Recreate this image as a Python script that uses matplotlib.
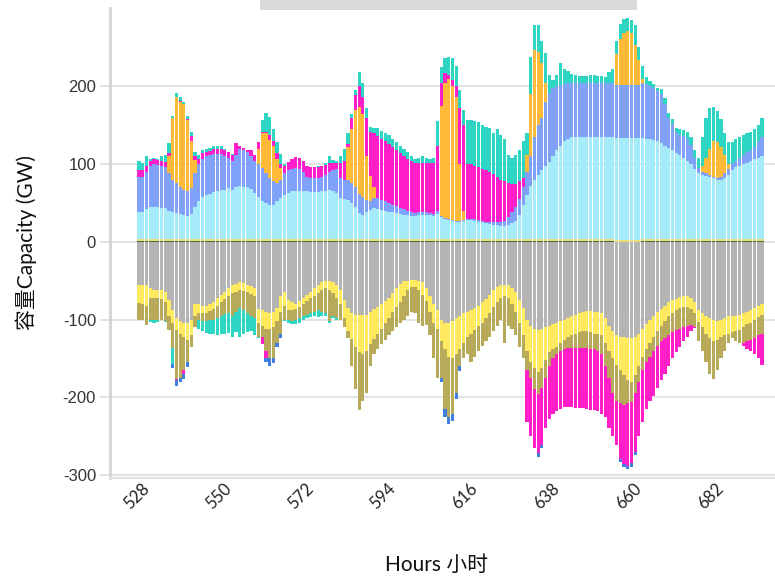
import numpy as np
import matplotlib.pyplot as plt
import matplotlib.transforms as mtransforms
from matplotlib.patches import Rectangle

plt.rcParams['font.family'] = ['Liberation Sans', 'Noto Sans CJK SC']

hours = list(range(528, 696))
tick_hours = [528, 550, 572, 594, 616, 638, 660, 682]
ytick_vals = [-300, -200, -100, 0, 100, 200]
ytick_text = ['-300', '-200', '-100', '0', '100', '200']

# --- positive side (GW), stacked from zero upwards ---
green_pos = ([1.5] * 24 + [1.5] * 24 + [1.5] * 24 + [1.5] * 24 + [1.5] * 24
             + [1.5, 1.5, 1.5, 1.5, 1.5, 1.5, 1.5, 1.5, 0, 0, 0, 0, 0, 0, 0,
                1.5, 1.5, 1.5, 1.5, 1.5, 1.5, 1.5, 1.5, 1.5]
             + [1.5] * 24)
yellow_pos = [2.5] * 168

cyan = [35, 34, 38, 41, 41, 41, 40, 39, 36, 34, 33, 32, 31, 29, 32, 41, 48, 54, 56, 58, 60, 62, 63, 63,
        65, 63, 67, 68, 67, 66, 64, 59, 54, 48, 46, 44, 44, 48, 52, 56, 59, 61, 62, 62, 62, 61, 60, 60,
        60, 61, 62, 63, 61, 59, 52, 51, 50, 46, 41, 33, 31, 34, 37, 39, 38, 37, 36, 35, 34, 33, 32, 31,
        30, 29, 29, 30, 31, 31, 30, 29, 32, 28, 26, 24, 23, 22, 22, 23, 24, 24, 23, 22, 21, 20, 19, 18,
        18, 17, 17, 18, 20, 23, 31, 44, 56, 68, 76, 82, 88, 94, 99, 106, 114, 120, 126, 129, 131, 131, 131, 131,
        131, 131, 131, 131, 131, 131, 131, 131, 131, 131, 131, 131, 131, 131, 131, 130, 129, 128, 127, 126, 123, 120, 117, 114,
        110, 108, 104, 100, 96, 90, 84, 82, 81, 80, 78, 76, 76, 78, 82, 88, 92, 94, 96, 98, 100, 102, 104, 106]

blue = [45, 46, 48, 52, 55, 54, 54, 53, 48, 42, 39, 35, 32, 32, 33, 43, 48, 49, 50, 50, 49, 47, 46, 44,
        39, 37, 41, 48, 47, 45, 42, 41, 42, 43, 38, 34, 30, 24, 24, 28, 29, 29, 29, 28, 24, 19, 18, 18,
        18, 19, 20, 23, 28, 31, 26, 25, 26, 26, 26, 25, 23, 16, 11, 13, 14, 13, 12, 11, 10, 9, 8, 7,
        6, 5, 4, 4, 4, 3, 3, 3, 4, 1, 1, 1, 1, 1, 1, 1, 2, 2, 2, 2, 2, 2, 2, 3,
        3, 4, 6, 10, 14, 18, 20, 22, 30, 38, 55, 64, 68, 82, 89, 88, 82, 78, 73, 71, 69, 69, 69, 69,
        69, 69, 69, 69, 69, 69, 69, 69, 69, 69, 69, 69, 69, 69, 69, 70, 70, 68, 67, 64, 63, 54, 39, 34,
        28, 26, 28, 28, 25, 14, 7, 4, 3, 2, 2, 2, 4, 6, 8, 8, 8, 10, 12, 13, 14, 16, 22, 25]

orange = [0, 0, 0, 0, 0, 0, 0, 0, 22, 80, 110, 109, 110, 92, 61, 17, 0, 0, 0, 0, 0, 0, 0, 0,
          0, 0, 0, 0, 0, 0, 0, 0, 20, 45, 52, 49, 45, 30, 15, 0, 0, 0, 0, 0, 0, 0, 0, 0,
          0, 0, 0, 0, 0, 0, 0, 0, 42, 69, 99, 112, 107, 56, 33, 14, 0, 0, 0, 0, 0, 0, 0, 0,
          0, 0, 0, 0, 0, 0, 0, 0, 0, 142, 174, 180, 172, 160, 73, 12, 0, 0, 0, 0, 0, 0, 0, 0,
          0, 0, 0, 0, 0, 0, 0, 0, 22, 80, 112, 95, 70, 25, 0, 0, 0, 0, 0, 0, 0, 0, 0, 0,
          0, 0, 0, 0, 0, 0, 0, 0, 39, 58, 66, 69, 66, 51, 31, 6, 0, 0, 0, 0, 0, 0, 0, 0,
          0, 0, 0, 0, 0, 0, 0, 8, 20, 34, 46, 46, 38, 24, 6, 0, 0, 0, 0, 0, 0, 0, 0, 0]

pink_pos = [9, 8, 8, 7, 6, 6, 6, 7, 4, 0, 0, 1, 1, 1, 6, 5, 6, 7, 6, 5, 6, 6, 7, 7,
            7, 8, 15, 3, 3, 3, 8, 8, 8, 2, 2, 7, 7, 8, 5, 9, 11, 12, 14, 14, 14, 14, 14, 14,
            14, 13, 13, 11, 9, 7, 19, 24, 4, 15, 19, 26, 21, 50, 57, 70, 80, 79, 78, 76, 74, 72, 70, 68,
            67, 66, 65, 63, 62, 63, 64, 66, 83, 30, 12, 6, 8, 13, 72, 110, 70, 70, 69, 68, 67, 66, 65, 62,
            59, 55, 51, 44, 37, 30, 23, 12, 0, 0, 0, 0, 0, 0, 0, 0, 0, 0, 0, 0, 0, 0, 0, 0,
            0, 0, 0, 0, 0, 0, 0, 0, 0, 0, 0, 0, 0, 0, 0, 0, 0, 0, 0, 0, 0, 0, 0, 0,
            0, 0, 0, 0, 0, 0, 0, 0, 0, 0, 0, 0, 0, 0, 0, 0, 0, 0, 0, 0, 0, 0, 0, 0]

teal_pos = [11, 9, 12, 2, 2, 1, 6, 9, 13, 2, 5, 5, 2, 4, 6, 6, 6, 4, 4, 4, 4, 4, 3, 2,
            1, 1, 0, 0, 0, 0, 0, 0, 1, 15, 24, 23, 15, 15, 13, 3, 0, 0, 0, 0, 0, 0, 0, 0,
            1, 1, 3, 9, 3, 3, 9, 16, 14, 5, 7, 19, 18, 12, 6, 6, 10, 10, 10, 11, 11, 11, 10, 10,
            8, 6, 4, 7, 9, 7, 5, 6, 32, 20, 19, 23, 28, 26, 23, 20, 57, 57, 58, 58, 56, 56, 56, 53,
            61, 58, 54, 36, 33, 37, 40, 48, 28, 48, 32, 34, 28, 38, 23, 10, 15, 28, 19, 16, 12, 11, 10, 10,
            10, 11, 11, 10, 9, 8, 14, 18, 17, 20, 18, 17, 17, 25, 17, 16, 9, 7, 5, 4, 7, 7, 6, 6,
            5, 7, 8, 10, 10, 10, 13, 37, 52, 52, 44, 40, 36, 28, 28, 28, 28, 27, 26, 25, 24, 23, 20, 25]

# --- negative side (GW, drawn below zero) ---
gray = [55, 55, 56, 60, 62, 62, 62, 65, 75, 88, 98, 102, 104, 105, 100, 80, 80, 83, 82, 80, 77, 72, 68, 64,
        60, 56, 54, 52, 53, 55, 57, 60, 86, 88, 90, 92, 90, 85, 70, 64, 75, 78, 80, 76, 72, 68, 64, 60,
        56, 52, 50, 50, 52, 56, 62, 75, 85, 92, 94, 94, 94, 94, 90, 86, 84, 80, 76, 72, 66, 60, 54, 51,
        50, 49, 49, 50, 52, 60, 70, 80, 88, 100, 104, 105, 102, 98, 95, 92, 90, 88, 85, 82, 78, 74, 68, 62,
        58, 56, 55, 56, 60, 65, 75, 85, 100, 108, 112, 113, 112, 110, 108, 106, 104, 102, 100, 98, 96, 94, 92, 90,
        89, 89, 90, 90, 92, 98, 108, 115, 120, 122, 123, 124, 124, 122, 118, 112, 106, 100, 95, 90, 86, 82, 78, 75,
        73, 71, 70, 70, 72, 78, 88, 92, 95, 98, 100, 102, 100, 98, 96, 95, 95, 94, 92, 90, 88, 85, 83, 80]

yellow = [24, 25, 27, 12, 10, 10, 12, 13, 21, 17, 15, 16, 18, 21, 20, 15, 12, 9, 9, 9, 9, 10, 10, 10,
          10, 10, 10, 10, 10, 10, 10, 10, 19, 20, 22, 20, 20, 17, 20, 18, 13, 10, 6, 8, 8, 8, 8, 10,
          10, 10, 10, 12, 14, 16, 18, 23, 30, 33, 41, 48, 51, 46, 42, 39, 34, 32, 28, 26, 24, 24, 24, 19,
          12, 9, 9, 12, 16, 16, 20, 25, 24, 28, 34, 43, 48, 47, 43, 38, 32, 30, 29, 26, 26, 24, 24, 22,
          20, 16, 15, 16, 20, 25, 30, 35, 40, 47, 50, 55, 50, 42, 34, 32, 31, 28, 26, 24, 24, 24, 24, 25,
          26, 27, 28, 28, 28, 32, 32, 35, 38, 43, 49, 54, 56, 50, 42, 36, 32, 30, 27, 25, 22, 20, 18, 17,
          15, 14, 14, 14, 14, 14, 15, 18, 23, 26, 28, 24, 22, 22, 22, 21, 20, 19, 18, 16, 16, 15, 14, 14]

olive = [21, 20, 24, 29, 29, 28, 26, 24, 17, 32, 63, 57, 43, 29, 15, 15, 8, 10, 11, 11, 14, 16, 18, 19,
         22, 29, 26, 23, 25, 27, 28, 28, 17, 14, 28, 38, 40, 28, 28, 18, 12, 14, 14, 14, 16, 18, 20, 20,
         22, 28, 32, 40, 30, 26, 20, 12, 9, 35, 55, 74, 60, 55, 28, 20, 20, 20, 22, 22, 25, 26, 27, 30,
         33, 32, 34, 43, 40, 31, 30, 45, 63, 47, 77, 77, 72, 50, 22, 20, 23, 37, 34, 32, 30, 30, 30, 31,
         30, 28, 60, 36, 32, 30, 30, 30, 25, 20, 28, 28, 26, 23, 18, 12, 10, 10, 12, 15, 17, 19, 21, 22,
         22, 22, 20, 22, 25, 30, 35, 45, 47, 43, 38, 30, 26, 23, 20, 17, 17, 18, 18, 19, 20, 22, 24, 24,
         26, 27, 26, 24, 21, 18, 25, 30, 37, 46, 48, 39, 28, 20, 12, 8, 13, 17, 20, 22, 22, 24, 23, 24]

teal_neg = [0, 0, 0, 2, 3, 3, 1, 1, 0, 20, 0, 0, 0, 0, 0, 0, 12, 13, 15, 18, 19, 22, 22, 25,
            25, 28, 26, 37, 30, 24, 20, 22, 2, 0, 0, 0, 0, 0, 0, 2, 4, 4, 6, 6, 4, 4, 5, 6,
            9, 6, 3, 2, 2, 2, 0, 0, 0, 0, 0, 0, 0, 0, 0, 0, 0, 0, 0, 0, 0, 0, 0, 0,
            0, 0, 0, 0, 0, 0, 0, 0, 0, 0, 0, 0, 0, 0, 0, 0, 0, 0, 0, 0, 0, 0, 0, 0,
            0, 0, 0, 0, 0, 0, 0, 0, 0, 0, 0, 0, 0, 0, 0, 0, 0, 0, 0, 0, 0, 0, 0, 0,
            0, 0, 0, 0, 0, 0, 0, 0, 0, 0, 0, 0, 0, 0, 0, 0, 0, 0, 0, 0, 0, 0, 0, 0,
            0, 0, 0, 0, 0, 0, 0, 0, 0, 0, 0, 0, 0, 0, 0, 0, 0, 0, 0, 0, 0, 0, 0, 0]

pink_neg = [0, 0, 0, 0, 0, 0, 0, 0, 0, 0, 2, 0, 5, 0, 0, 0, 0, 0, 0, 0, 0, 0, 0, 0,
            0, 0, 0, 0, 0, 0, 0, 0, 0, 10, 10, 0, 0, 0, 0, 0, 0, 0, 0, 0, 0, 0, 0, 0,
            0, 0, 0, 0, 0, 0, 0, 0, 0, 0, 0, 0, 0, 0, 0, 0, 0, 0, 0, 0, 0, 0, 0, 0,
            0, 0, 0, 0, 0, 0, 0, 0, 0, 0, 0, 0, 0, 0, 0, 0, 0, 0, 0, 0, 0, 0, 0, 0,
            0, 0, 0, 0, 0, 0, 0, 0, 67, 75, 76, 76, 74, 65, 68, 72, 73, 75, 74, 75, 76, 77, 77, 77,
            78, 78, 78, 78, 77, 65, 65, 55, 57, 72, 76, 80, 79, 75, 70, 67, 60, 57, 58, 54, 50, 46, 40, 34,
            28, 23, 18, 14, 8, 1, 0, 0, 0, 0, 0, 0, 0, 0, 0, 0, 0, 0, 4, 10, 14, 21, 30, 40]

blue_neg = [0, 0, 0, 0, 0, 0, 0, 0, 0, 5, 7, 5, 7, 6, 0, 0, 0, 0, 0, 0, 0, 0, 0, 0,
            0, 0, 0, 0, 0, 0, 0, 0, 0, 0, 5, 10, 6, 6, 6, 0, 0, 0, 0, 0, 0, 0, 0, 0,
            0, 0, 0, 0, 0, 0, 0, 0, 0, 0, 0, 0, 0, 0, 0, 0, 0, 0, 0, 0, 0, 0, 0, 0,
            0, 0, 0, 0, 0, 0, 0, 0, 0, 5, 10, 9, 8, 7, 6, 0, 0, 0, 0, 0, 0, 0, 0, 0,
            0, 0, 0, 0, 0, 0, 0, 0, 0, 0, 0, 5, 4, 0, 0, 0, 0, 0, 0, 0, 0, 0, 0, 0,
            0, 0, 0, 0, 0, 0, 0, 0, 0, 3, 4, 4, 5, 5, 0, 0, 0, 0, 0, 0, 0, 0, 0, 0,
            0, 0, 0, 0, 0, 0, 0, 0, 0, 0, 0, 0, 0, 0, 0, 0, 0, 0, 0, 0, 0, 0, 0, 0]

pos_series = [
    (green_pos, '#3f6b2e'),
    (yellow_pos, '#ecdc7a'),
    (cyan, '#a6ebf9'),
    (blue, '#7fa2f8'),
    (orange, '#ffbb38'),
    (pink_pos, '#ff1ec8'),
    (teal_pos, '#2dd5c2'),
]
neg_series = [
    (gray, '#b4b4b4'),
    (yellow, '#ffe95e'),
    (olive, '#b7ab5b'),
    (teal_neg, '#2dd5c2'),
    (pink_neg, '#ff1ec8'),
    (blue_neg, '#3f7fe0'),
]

fig = plt.figure(figsize=(7.75, 5.76), dpi=100)
ax = fig.add_axes([110 / 775, 1 - 478 / 576, 665 / 775, 470 / 576])

bottom = np.zeros(len(hours))
for vals, color in pos_series:
    v = np.array(vals, dtype=float)
    ax.bar(hours, v, bottom=bottom, width=0.86, color=color, linewidth=0, zorder=2)
    bottom += v

bottom = np.zeros(len(hours))
for vals, color in neg_series:
    v = -np.array(vals, dtype=float)
    ax.bar(hours, v, bottom=bottom, width=0.86, color=color, linewidth=0, zorder=2)
    bottom += v

ax.set_xlim(520.2, 698.5)
ax.set_ylim(-304, 301)

ax.set_yticks(ytick_vals)
ax.set_yticklabels(ytick_text)
ax.yaxis.grid(True, color='#e4e4e4', linewidth=1.4)
ax.set_axisbelow(True)
ax.tick_params(axis='y', length=7, width=1.2, color='#dcdcdc', labelcolor='#333333',
               labelsize=12, pad=3)

ax.set_xticks(tick_hours)
ax.set_xticklabels([str(h) for h in tick_hours], rotation=45, ha='right', va='top',
                   rotation_mode='anchor', family=['Lato', 'DejaVu Sans'], fontsize=12,
                   color='#222222')
ax.tick_params(axis='x', length=0, pad=2)
offset = mtransforms.ScaledTranslation(0.02, 0, fig.dpi_scale_trans)
for lab in ax.get_xticklabels():
    lab.set_transform(lab.get_transform() + offset)

for side in ['top', 'right']:
    ax.spines[side].set_visible(False)
ax.spines['left'].set_color('#d4d4d4')
ax.spines['left'].set_linewidth(2)
ax.spines['bottom'].set_color('#e2e2e2')
ax.spines['bottom'].set_linewidth(1.5)

fig.text(437 / 775, 1 - 565 / 576, 'Hours 小时', ha='center', va='center',
         fontsize=15, family=['Lato', 'Noto Sans CJK SC'], color='#111111')
fig.text(26 / 775, 1 - 243 / 576, '容量Capacity (GW)', ha='center', va='center',
         rotation=90, fontsize=15, family=['Lato', 'Noto Sans CJK SC'], color='#111111')

# grey strip along the top edge (clipped legend box)
fig.patches.append(Rectangle((260 / 775, 1 - 10 / 576), 377 / 775, 10 / 576,
                             transform=fig.transFigure, facecolor='#d9d9d9',
                             edgecolor='none'))

fig.savefig('out.png', dpi=100)
